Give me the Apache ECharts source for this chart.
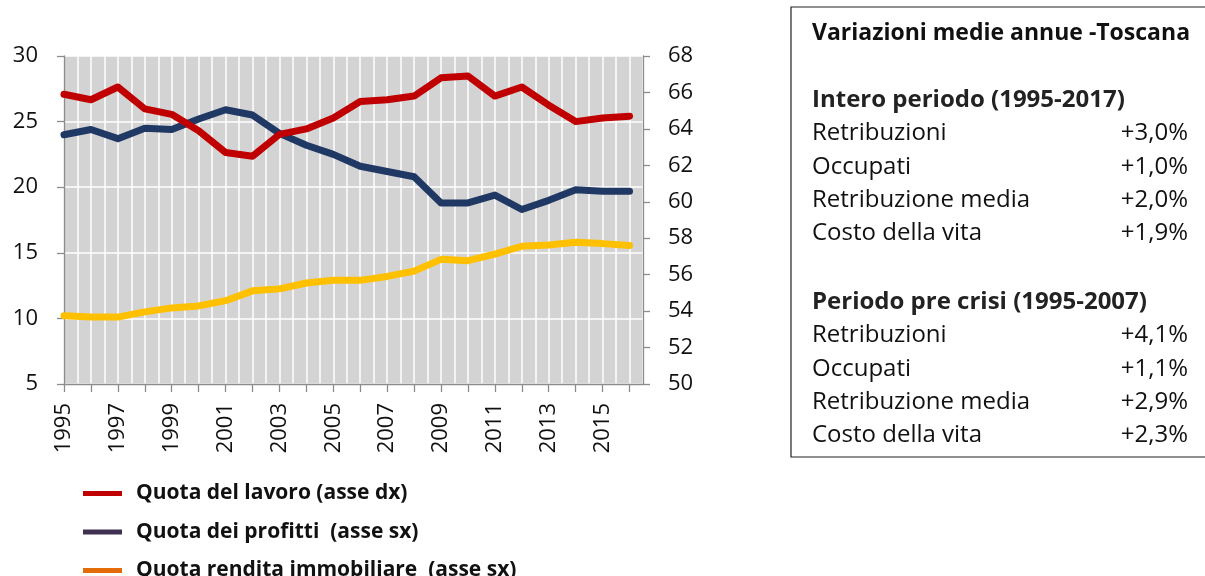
<!DOCTYPE html>
<html>
<head>
<meta charset="utf-8">
<script src="https://cdn.jsdelivr.net/npm/echarts@6/dist/echarts.min.js"></script>
<style>
  html, body { margin: 0; padding: 0; background: #fff; }
  #chart { width: 1205px; height: 576px; }
</style>
</head>
<body>
<div id="chart"></div>
<script>
// quote su valore aggiunto - Toscana
const years = [1995, 1996, 1997, 1998, 1999, 2000, 2001, 2002, 2003, 2004, 2005,
  2006, 2007, 2008, 2009, 2010, 2011, 2012, 2013, 2014, 2015, 2016];
const quotaLavoro = [65.9, 65.6, 66.3, 65.1, 64.8, 63.9, 62.7, 62.5, 63.7, 64.0, 64.6,
  65.5, 65.6, 65.8, 66.8, 66.9, 65.8, 66.3, 65.3, 64.4, 64.6, 64.7];
const quotaProfitti = [24.0, 24.4, 23.7, 24.5, 24.4, 25.2, 25.9, 25.5, 24.1, 23.2, 22.5,
  21.6, 21.2, 20.8, 18.8, 18.8, 19.4, 18.3, 19.0, 19.8, 19.7, 19.7];
const quotaRendita = [10.2, 10.1, 10.1, 10.5, 10.8, 10.95, 11.35, 12.1, 12.25, 12.7, 12.9,
  12.9, 13.2, 13.6, 14.5, 14.4, 14.9, 15.5, 15.6, 15.8, 15.7, 15.55];

const seriesNames = ['Quota del lavoro (asse dx)', 'Quota dei profitti  (asse sx)', 'Quota rendita immobiliare  (asse sx)'];
const lineColors = ['#c00000', '#1f3864', '#ffc000'];
const legendColors = ['#c00000', '#403152', '#e36c09'];

const boxTitle = 'Variazioni medie annue -Toscana';
const sections = ['Intero periodo (1995-2017)', 'Periodo pre crisi (1995-2007)'];
const rowLabels = ['Retribuzioni', 'Occupati', 'Retribuzione media', 'Costo della vita'];
const valuesIntero = ['+3,0%', '+1,0%', '+2,0%', '+1,9%'];
const valuesPreCrisi = ['+4,1%', '+1,1%', '+2,9%', '+2,3%'];

const font = '"Open Sans", sans-serif';
const chart = echarts.init(document.getElementById('chart'));

// riquadro di testo a destra
const boxTexts = [];
boxTexts.push({ type: 'text', x: 812, y: 33, style: { text: boxTitle, font: 'bold 23px ' + font, fill: '#111', verticalAlign: 'middle' } });
[[valuesIntero, 100], [valuesPreCrisi, 302]].forEach(([vals, y0], s) => {
  boxTexts.push({ type: 'text', x: 812, y: y0, style: { text: sections[s], font: 'bold 24px ' + font, fill: '#222', verticalAlign: 'middle' } });
  rowLabels.forEach((lab, i) => {
    const y = y0 + 33.4 * (i + 1);
    boxTexts.push({ type: 'text', x: 812, y: y, style: { text: lab, font: '24px ' + font, fill: '#111', verticalAlign: 'middle' } });
    boxTexts.push({ type: 'text', x: 1188, y: y, style: { text: vals[i], font: '24px ' + font, fill: '#111', align: 'right', verticalAlign: 'middle' } });
  });
});

const option = {
  animation: false,
  textStyle: { fontFamily: font },
  grid: { left: 64, right: 562, top: 56, bottom: 192, show: true, backgroundColor: '#d3d3d3', borderWidth: 0 },
  legend: {
    orient: 'vertical',
    left: 78,
    top: 478,
    height: 110,
    itemWidth: 39,
    itemHeight: 5,
    itemGap: 17.5,
    icon: 'rect',
    selectedMode: false,
    textStyle: { fontSize: 21, fontWeight: 'bold', color: '#111', lineHeight: 20, padding: [0, 0, 0, 9] },
    data: seriesNames.map((n, i) => ({ name: n, itemStyle: { color: legendColors[i] } }))
  },
  xAxis: [
    {
      type: 'value', min: 1995, max: 2016.5, interval: 1,
      axisLine: { lineStyle: { color: '#8c8c8c', width: 1.3 } },
      axisTick: { length: 8, lineStyle: { color: '#8c8c8c', width: 1.3 } },
      axisLabel: {
        rotate: 90, margin: 19, fontSize: 22, color: '#111',
        formatter: v => (Number.isInteger(v) && (v - 1995) % 2 === 0) ? String(v) : '',
        showMaxLabel: false
      },
      splitLine: { show: false }
    },
    {
      type: 'value', min: 1995, max: 2016.5, interval: 0.5, position: 'bottom',
      axisLine: { show: false }, axisTick: { show: false }, axisLabel: { show: false },
      splitLine: { show: true, lineStyle: { color: '#ffffff', width: 1.5 } }
    }
  ],
  yAxis: [
    {
      type: 'value', min: 5, max: 30, interval: 5, position: 'left',
      axisLine: { show: true, lineStyle: { color: '#8c8c8c', width: 1.3 } },
      axisTick: { show: true, length: 7, lineStyle: { color: '#8c8c8c', width: 1.3 } },
      axisLabel: { margin: 26, fontSize: 22, color: '#111' },
      splitLine: { show: true, lineStyle: { color: '#ffffff', width: 1.5 } }
    },
    {
      type: 'value', min: 50, max: 68, interval: 2, position: 'right',
      axisLine: { show: true, lineStyle: { color: '#8c8c8c', width: 1.3 } },
      axisTick: { show: true, length: 7, lineStyle: { color: '#8c8c8c', width: 1.3 } },
      axisLabel: { margin: 25, fontSize: 22, color: '#111' },
      splitLine: { show: false }
    }
  ],
  series: [
    {
      name: seriesNames[1], type: 'line', yAxisIndex: 0, z: 2,
      data: years.map((y, i) => [y, quotaProfitti[i]]),
      showSymbol: false, color: lineColors[1],
      lineStyle: { width: 7, color: lineColors[1], cap: 'round', join: 'round' }
    },
    {
      name: seriesNames[2], type: 'line', yAxisIndex: 0, z: 2,
      data: years.map((y, i) => [y, quotaRendita[i]]),
      showSymbol: false, color: lineColors[2],
      lineStyle: { width: 7, color: lineColors[2], cap: 'round', join: 'round' }
    },
    {
      name: seriesNames[0], type: 'line', yAxisIndex: 1, z: 3,
      data: years.map((y, i) => [y, quotaLavoro[i]]),
      showSymbol: false, color: lineColors[0],
      lineStyle: { width: 7, color: lineColors[0], cap: 'round', join: 'round' }
    }
  ],
  graphic: [
    { type: 'rect', shape: { x: 791, y: 7, width: 430, height: 450 }, style: { fill: '#fff', stroke: '#222', lineWidth: 1.2 }, z: 0 }
  ].concat(boxTexts)
};

chart.setOption(option);
</script>
</body>
</html>
